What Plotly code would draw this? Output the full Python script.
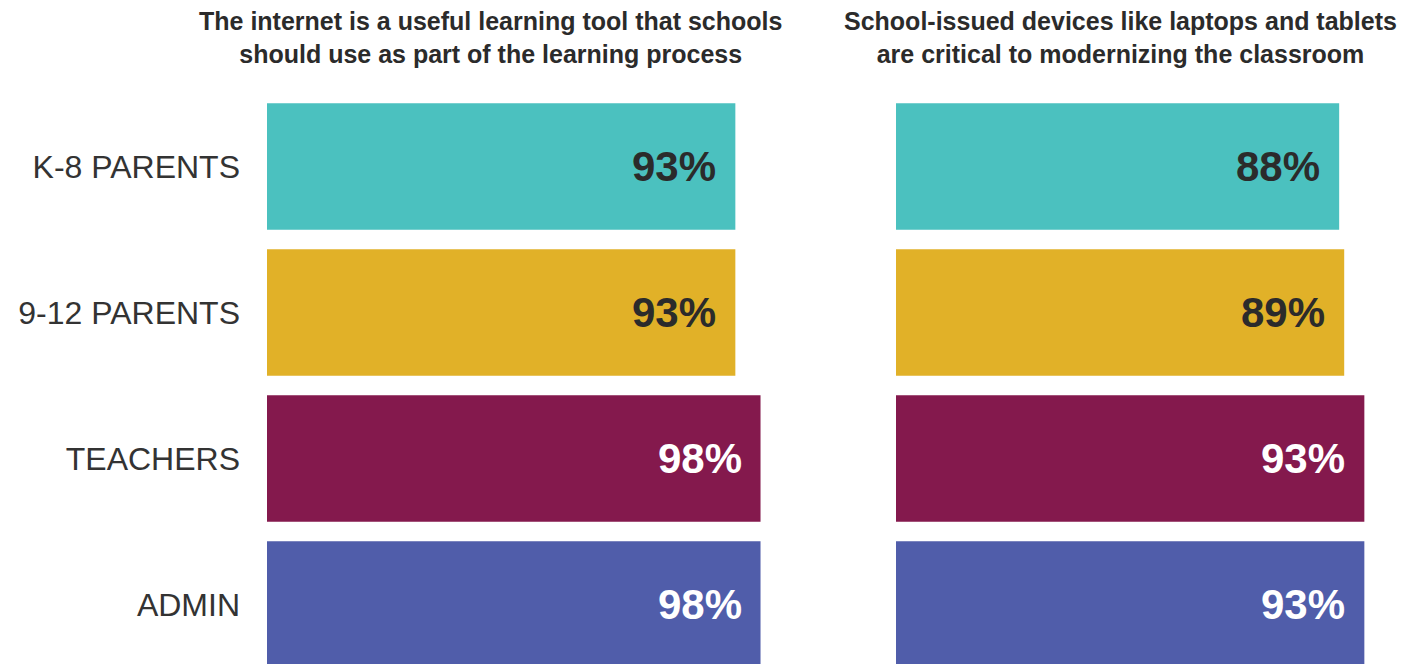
import plotly.graph_objects as go
from plotly.subplots import make_subplots

categories = ["K-8 PARENTS", "9-12 PARENTS", "TEACHERS", "ADMIN"]
internet_values = [93, 93, 98, 98]
devices_values = [88, 89, 93, 93]
titles = [
    "The internet is a useful learning tool that schools<br>should use as part of the learning process",
    "School-issued devices like laptops and tablets<br>are critical to modernizing the classroom",
]
bar_colors = ["#4BC1BF", "#E1B128", "#84194D", "#505DAA"]
label_colors = ["#2B2B2B", "#2B2B2B", "#FFFFFF", "#FFFFFF"]

W, H = 1425, 664
FONT = "Liberation Sans, Arial, sans-serif"

fig = make_subplots(rows=1, cols=2, horizontal_spacing=0.05)

for col, vals in ((1, internet_values), (2, devices_values)):
    fig.add_trace(
        go.Bar(
            x=vals,
            y=categories,
            orientation="h",
            marker=dict(color=bar_colors, line=dict(width=0)),
            hoverinfo="x+y",
            showlegend=False,
        ),
        row=1, col=col,
    )
    xref = "x" if col == 1 else "x2"
    yref = "y" if col == 1 else "y2"
    for cat, v, c in zip(categories, vals, label_colors):
        fig.add_annotation(
            x=v, y=cat, xref=xref, yref=yref,
            text=f"<b>{v}%</b>", showarrow=False,
            xanchor="right", yanchor="middle", xshift=-17,
            font=dict(family=FONT, size=42, color=c),
        )

yrange = [3.4623, -1.0856]
fig.update_yaxes(
    categoryorder="array", categoryarray=categories, range=yrange,
    showgrid=False, zeroline=False, showline=False, ticks="",
    fixedrange=True,
)
fig.update_yaxes(
    showticklabels=True, ticklabelstandoff=26,
    tickfont=dict(family=FONT, size=32, color="#333333"),
    row=1, col=1,
)
fig.update_yaxes(showticklabels=False, row=1, col=2)
fig.update_xaxes(
    range=[0, 100], showgrid=False, zeroline=False, showline=False,
    showticklabels=False, ticks="", fixedrange=True,
)

fig.update_layout(
    width=W, height=H,
    margin=dict(l=0, r=0, t=0, b=0),
    plot_bgcolor="white", paper_bgcolor="white",
    bargap=0.134,
    xaxis=dict(domain=[259 / W, 762.6 / W]),
    xaxis2=dict(domain=[888 / W, 1391.6 / W]),
    yaxis=dict(domain=[0, 1]),
    yaxis2=dict(domain=[0, 1]),
    font=dict(family=FONT),
)

for tx, text in zip([483 / W, 1112.5 / W], titles):
    fig.add_annotation(
        x=tx, y=1, xref="paper", yref="paper",
        text=f"<b>{text}</b>", showarrow=False,
        xanchor="center", yanchor="top", yshift=3,
        align="center",
        font=dict(family=FONT, size=25, color="#2B2B2B"),
    )

fig.write_html("out.html")
